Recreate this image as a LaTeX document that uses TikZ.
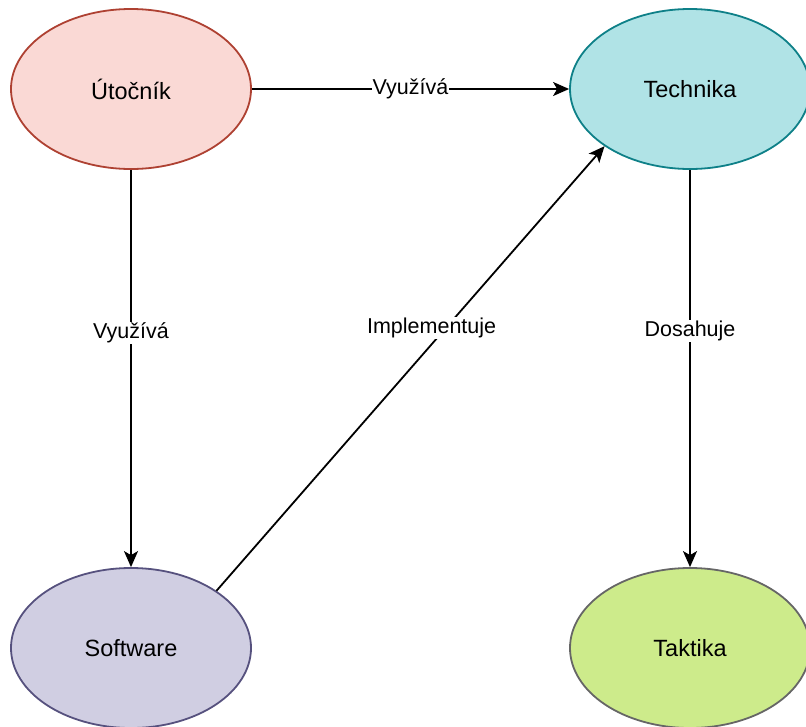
\documentclass[tikz,border=0pt]{standalone}
\usepackage{fontspec}
\setmainfont{Liberation Sans}
\usetikzlibrary{arrows.meta,shapes.geometric}
\definecolor{redfill}{HTML}{FAD9D5}
\definecolor{redline}{HTML}{AE4132}
\definecolor{tealfill}{HTML}{B0E3E6}
\definecolor{tealline}{HTML}{0E8088}
\definecolor{purfill}{HTML}{D0CEE2}
\definecolor{purline}{HTML}{56517E}
\definecolor{grnfill}{HTML}{CDEB8B}
\definecolor{grnline}{HTML}{666666}
\tikzset{
  ent/.style={ellipse, minimum width=240pt, minimum height=160pt, inner sep=0pt, line width=1.8pt,
    font=\fontsize{23.5}{28}\selectfont},
  conn/.style={line width=1.8pt, -{Stealth[length=16pt,width=14pt,inset=4pt]}},
  lbl/.style={fill=white, inner sep=1pt, font=\fontsize{21.5}{26}\selectfont}
}
\begin{document}
\begin{tikzpicture}[x=1pt,y=-1pt]
\useasboundingbox (0,0) rectangle (806,726);
\node[ent, fill=redfill, draw=redline] (ut) at (131,89) {Útočník};
\node[ent, fill=tealfill, draw=tealline] (te) at (690,89) {Technika};
\node[ent, fill=purfill, draw=purline] (sw) at (131,648) {Software};
\node[ent, fill=grnfill, draw=grnline] (ta) at (690,648) {Taktika};
\draw[conn] (ut) -- node[lbl, pos=0.5] (l1) {Využívá} (te);
\draw[conn] (ut) -- node[lbl, pos=0.41] (l2) {Využívá} (sw);
\draw[conn] (te) -- node[lbl, pos=0.405] (l3) {Dosahuje} (ta);
\draw[conn] (sw.north east) -- node[lbl, pos=0.575, xshift=-8pt, yshift=7pt] (l4) {Implementuje} (te.south west);
\end{tikzpicture}
\end{document}
